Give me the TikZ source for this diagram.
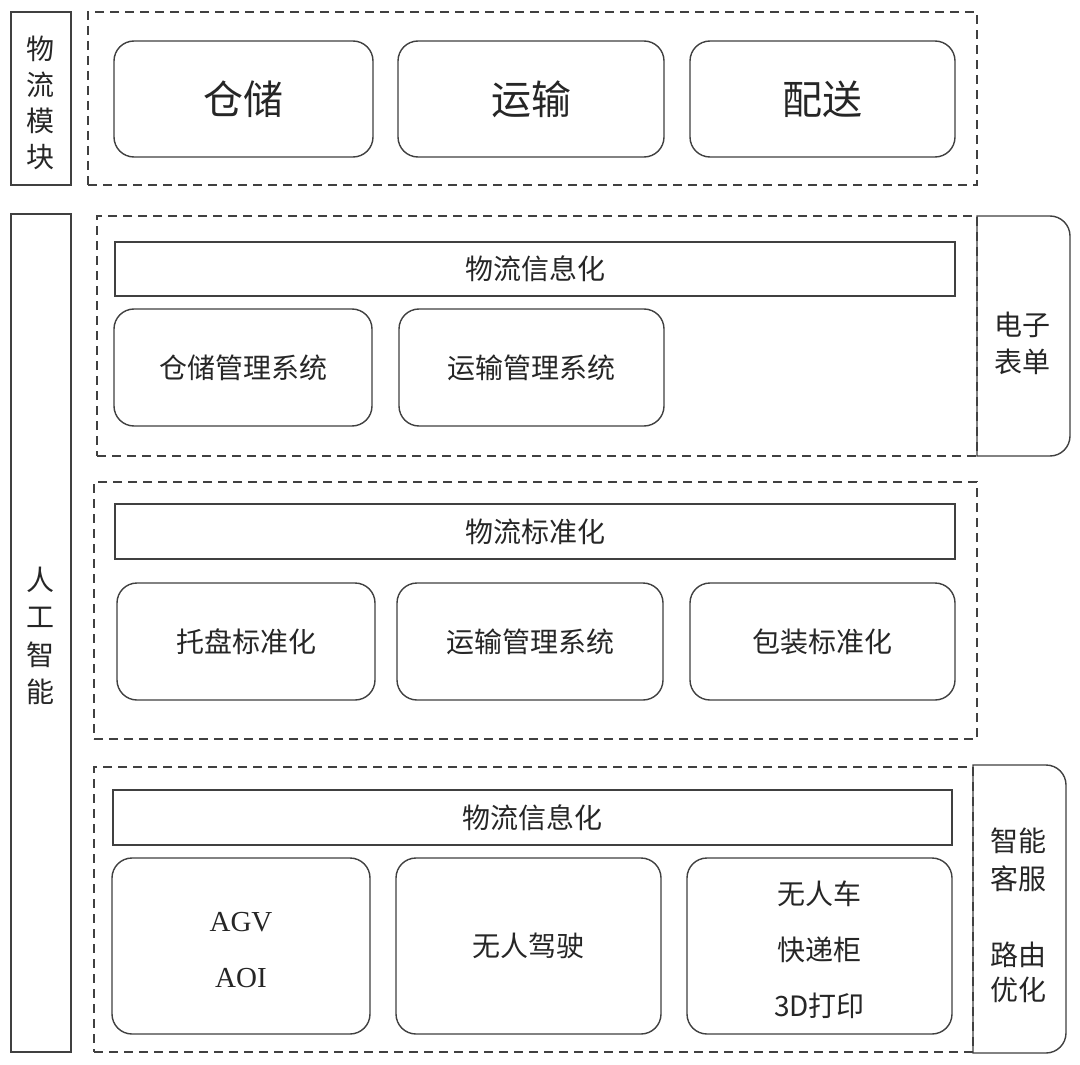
\documentclass[tikz,border=0pt]{standalone}
\usepackage{fontspec}
\setmainfont{Noto Sans CJK SC}
\newfontfamily\latinserif{Liberation Serif}
\begin{document}
\begin{tikzpicture}[x=1pt,y=-1pt,
  every node/.style={inner sep=0pt, text=black!85, font=\fontsize{28}{36}\selectfont},
  line/.style={draw=black!75, line width=1.4pt},
  dashbox/.style={draw=black!75, line width=1.3pt, dash pattern=on 9pt off 6pt},
  rbox/.style={line, rounded corners=20pt},
  sbox/.style={line},
]
\useasboundingbox[fill=white] (0,0) rectangle (1080,1065);

% left labels
\node[sbox, minimum width=60, minimum height=173] (wlmk) at (41,98.5) {};
\node[align=center, font=\fontsize{28}{36}\selectfont] (wlmkt) at (41,103) {物\\流\\模\\块};
\node[sbox, minimum width=60, minimum height=838] (rgzn) at (41,633) {};
\node[align=center, font=\fontsize{28}{37.5}\selectfont] (rgznt) at (41,636) {人\\工\\智\\能};

% top module
\node[dashbox, minimum width=889, minimum height=173] (top) at (532.5,98.5) {};
\node[rbox, minimum width=259, minimum height=116, font=\fontsize{40}{48}\selectfont] (cc) at (243.5,99) {仓储};
\node[rbox, minimum width=266, minimum height=116, font=\fontsize{40}{48}\selectfont] (ys) at (531,99) {运输};
\node[rbox, minimum width=265, minimum height=116, font=\fontsize{40}{48}\selectfont] (ps) at (822.5,99) {配送};

% section 1
\node[dashbox, minimum width=880, minimum height=240] (s1) at (537,336) {};
\node[sbox, minimum width=840, minimum height=54] (s1bar) at (535,269) {物流信息化};
\node[rbox, minimum width=258, minimum height=117] (s1a) at (243,367.5) {仓储管理系统};
\node[rbox, minimum width=265, minimum height=117] (s1b) at (531.5,367.5) {运输管理系统};
\draw[line] (977,216) -- (1050,216) arc[start angle=-90,end angle=0,radius=20] -- (1070,436)
  arc[start angle=0,end angle=90,radius=20] -- (977,456) -- cycle;
\node[align=center, font=\fontsize{28}{37}\selectfont] (dzbd) at (1022,343) {电子\\表单};

% section 2
\node[dashbox, minimum width=883, minimum height=257] (s2) at (535.5,610.5) {};
\node[sbox, minimum width=840, minimum height=55] (s2bar) at (535,531.5) {物流标准化};
\node[rbox, minimum width=258, minimum height=117] (s2a) at (246,641.5) {托盘标准化};
\node[rbox, minimum width=266, minimum height=117] (s2b) at (530,641.5) {运输管理系统};
\node[rbox, minimum width=265, minimum height=117] (s2c) at (822.5,641.5) {包装标准化};

% section 3
\node[dashbox, minimum width=879, minimum height=285] (s3) at (533.5,909.5) {};
\node[sbox, minimum width=839, minimum height=55] (s3bar) at (532.5,817.5) {物流信息化};
\node[rbox, minimum width=258, minimum height=176] (s3a) at (241,946) {};
\node[align=center, font=\latinserif\fontsize{29}{56}\selectfont] (s3at) at (241,950) {AGV\\AOI};
\node[rbox, minimum width=265, minimum height=176] (s3b) at (528.5,946) {无人驾驶};
\node[rbox, minimum width=265, minimum height=176] (s3c) at (819.5,946) {};
\node[align=center, font=\fontsize{28}{56}\selectfont] (s3ct) at (819.5,950) {无人车\\快递柜\\3D打印};
\draw[line] (973,765) -- (1046,765) arc[start angle=-90,end angle=0,radius=20] -- (1066,1033)
  arc[start angle=0,end angle=90,radius=20] -- (973,1053) -- cycle;
\node[align=center, font=\fontsize{28}{38}\selectfont] (znkf) at (1018,860) {智能\\客服};
\node[align=center, font=\fontsize{28}{35}\selectfont] (lyyh) at (1018,972) {路由\\优化};
\end{tikzpicture}
\end{document}
